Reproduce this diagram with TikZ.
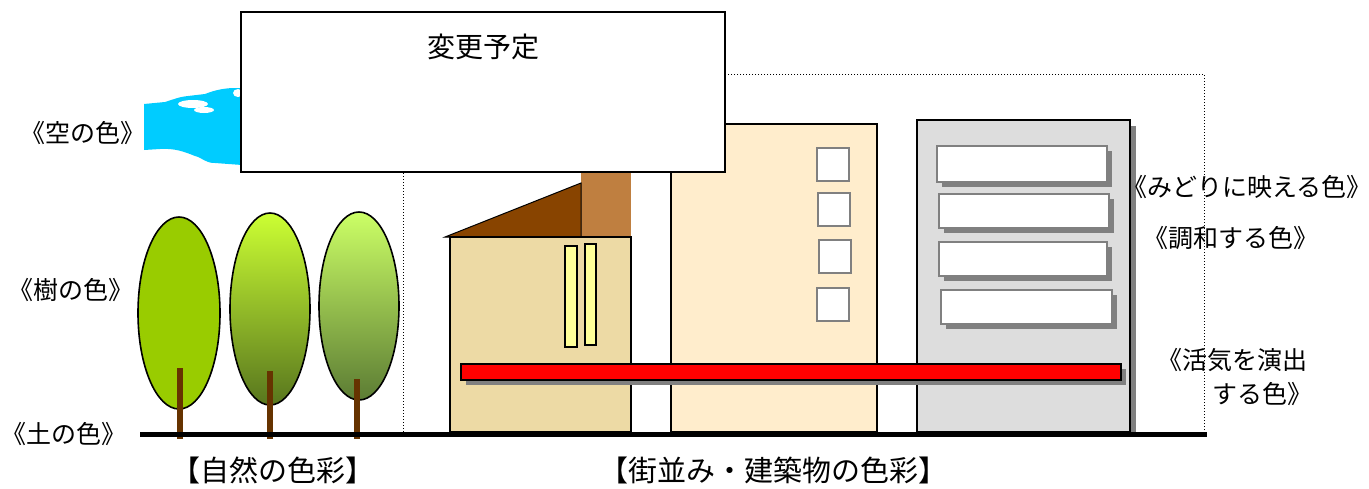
\documentclass[tikz,border=0pt]{standalone}
\usepackage{fontspec}
\setmainfont{Noto Sans CJK JP}
\usepackage{xcolor}
\usetikzlibrary{shadows}

\definecolor{skyblue}{HTML}{00CCFF}
\definecolor{leafA}{HTML}{99CC00}
\definecolor{trunk}{HTML}{663300}
\definecolor{wallA}{HTML}{EDDAA5}
\definecolor{roof}{HTML}{884400}
\definecolor{chimney}{HTML}{BF7F40}
\definecolor{winyellow}{HTML}{FFFF99}
\definecolor{wallB}{HTML}{FFEDCC}
\definecolor{wallC}{HTML}{DDDDDD}

\tikzset{
  label/.style={font=\fontsize{25}{29}\selectfont, inner sep=0pt},
  biglabel/.style={font=\fontsize{29}{33}\selectfont, inner sep=0pt},
  wall/.style={draw=black, line width=1.5pt},
  sqwin/.style={draw=gray, line width=1.5pt, fill=white},
  barwin/.style={draw=gray, line width=1.5pt, fill=white,
    drop shadow={shadow xshift=5pt, shadow yshift=-5pt, opacity=1, fill=gray}},
}

\begin{document}
\begin{tikzpicture}[x=1pt, y=-1pt]
\useasboundingbox (0,0) rectangle (1369,488);
% Dotted frame around the street
\draw[line width=1pt, dash pattern=on 1pt off 2pt] (403,74) rectangle (1204,432);
% Sky patch with clouds
\fill[skyblue] (144,104) -- (165,102) .. controls (172,100) and (178,97) .. (188,96)
  -- (205,94) .. controls (215,90) and (225,88) .. (235,88) -- (242,88) -- (242,165)
  -- (215,163) .. controls (205,163) and (203,158) .. (195,156)
  .. controls (185,152) and (175,148) .. (160,149) -- (144,150) -- cycle;
\fill[white] (193,104) ellipse [x radius=15, y radius=4];
\fill[white] (204,110) ellipse [x radius=10, y radius=3];
\fill[white] (238,93) ellipse [x radius=5, y radius=4];
% House with roof and chimney
\fill[chimney] (581,150) rectangle (631,237);
\draw[fill=roof, line width=1pt] (445,237) -- (581,183) -- (581,237) -- cycle;
\draw[wall, fill=wallA] (450,237) rectangle (631,432);
\draw[fill=winyellow, line width=1.5pt] (565,246) rectangle (577,347);
\draw[fill=winyellow, line width=1.5pt] (585,244) rectangle (596,345);
% Middle building
\draw[wall, fill=wallB] (671,124) rectangle (877,432);
\foreach \y/\x in {148/817, 193/818, 240/819, 288/817}
  \draw[sqwin] (\x,\y) rectangle ++(32,33);
% Grey building
\fill[gray] (1124,126) rectangle (1136,437);
\draw[wall, fill=wallC] (917,120) rectangle (1130,432);
\draw[barwin] (937,146) rectangle (1107,182);
\draw[barwin] (939,194) rectangle (1109,228);
\draw[barwin] (939,242) rectangle (1107,276);
\draw[barwin] (941,290) rectangle (1112,324);
% Red band across the street
\draw[fill=red, line width=1.5pt,
  drop shadow={shadow xshift=5pt, shadow yshift=-5pt, opacity=1, fill=gray}]
  (461,364) rectangle (1121,380);
% Trees
\draw[fill=leafA, line width=1.6pt] (179,313) ellipse [x radius=41, y radius=96];
\shade[draw=black, line width=1.6pt, top color={rgb,255:red,204;green,255;blue,51},
  middle color={rgb,255:red,160;green,196;blue,56}, bottom color={rgb,255:red,88;green,118;blue,30}]
  (270,309) ellipse [x radius=40, y radius=96];
\shade[draw=black, line width=1.6pt, top color={rgb,255:red,204;green,255;blue,102},
  middle color={rgb,255:red,160;green,198;blue,96}, bottom color={rgb,255:red,92;green,124;blue,52}]
  (359,306) ellipse [x radius=40, y radius=94];
\fill[trunk] (177,368) rectangle (183,439);
\fill[trunk] (267,371) rectangle (273,439);
\fill[trunk] (354,379) rectangle (360,439);
% Ground line
\fill[black] (140,432) rectangle (1207,437);
% Box covering the upper part
\draw[line width=1.6pt, fill=white] (241,12) rectangle (725,172);
\node[font=\fontsize{28}{32}\selectfont, inner sep=0pt] (plan) at (483,47) {変更予定};
% Labels
\node[label] (skycol) at (83,133) {《空の色》};
\node[label] (treecol) at (71,290) {《樹の色》};
\node[label] (soilcol) at (64,434) {《土の色》};
\node[label] (greencol) at (1247,187) {《みどりに映える色》};
\node[label] (harmcol) at (1231,238) {《調和する色》};
\node[label, anchor=west] (livecol) at (1157,360) {《活気を演出};
\node[label] (livecolb) at (1262,394) {する色》};
\node[biglabel] (nature) at (273,470) {【自然の色彩】};
\node[biglabel] (street) at (773,470) {【街並み・建築物の色彩】};
\end{tikzpicture}
\end{document}
